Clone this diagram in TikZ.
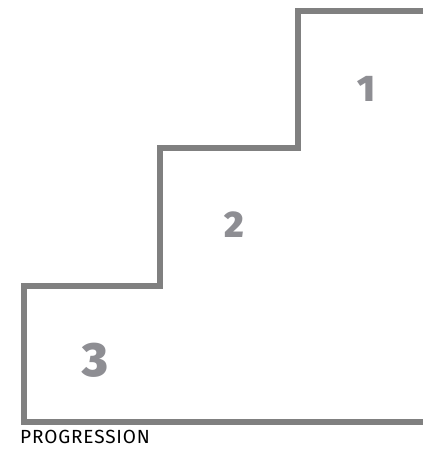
\documentclass[tikz,border=0pt]{standalone}
\usepackage{fontspec}
\setmainfont{Fira Sans}[LetterSpace=4.5]
\newfontfamily\stepfont{Fira Sans}[UprightFont=* Black]
\usetikzlibrary{positioning}
\definecolor{stairgray}{HTML}{808080}
\definecolor{numgray}{HTML}{8E8E93}

\begin{document}
\begin{tikzpicture}[x=1pt, y=-1pt,
  stairline/.style={draw=stairgray, line width=6pt},
  stepnum/.style={text=numgray, inner sep=0pt, font=\stepfont\fontsize{37}{37}\selectfont},
  caption/.style={inner sep=0pt, anchor=base west, font=\fontsize{19}{19}\selectfont}]
\useasboundingbox (0,0) rectangle (423,449);

\draw[stairline] (423,11.5) -- (297.5,11.5) -- (297.5,148.5) -- (160,148.5)
  -- (160,285.5) -- (24,285.5) -- (24,422) -- (423,422);

\node[stepnum] (one) at (366,89) {1};
\node[stepnum] (two) at (234,225) {2};
\node[stepnum, font=\stepfont\fontsize{48}{48}\selectfont] (three) at (95,360) {3};

\node[caption] (title) at (20,443) {PROGRESSION};
\end{tikzpicture}
\end{document}
